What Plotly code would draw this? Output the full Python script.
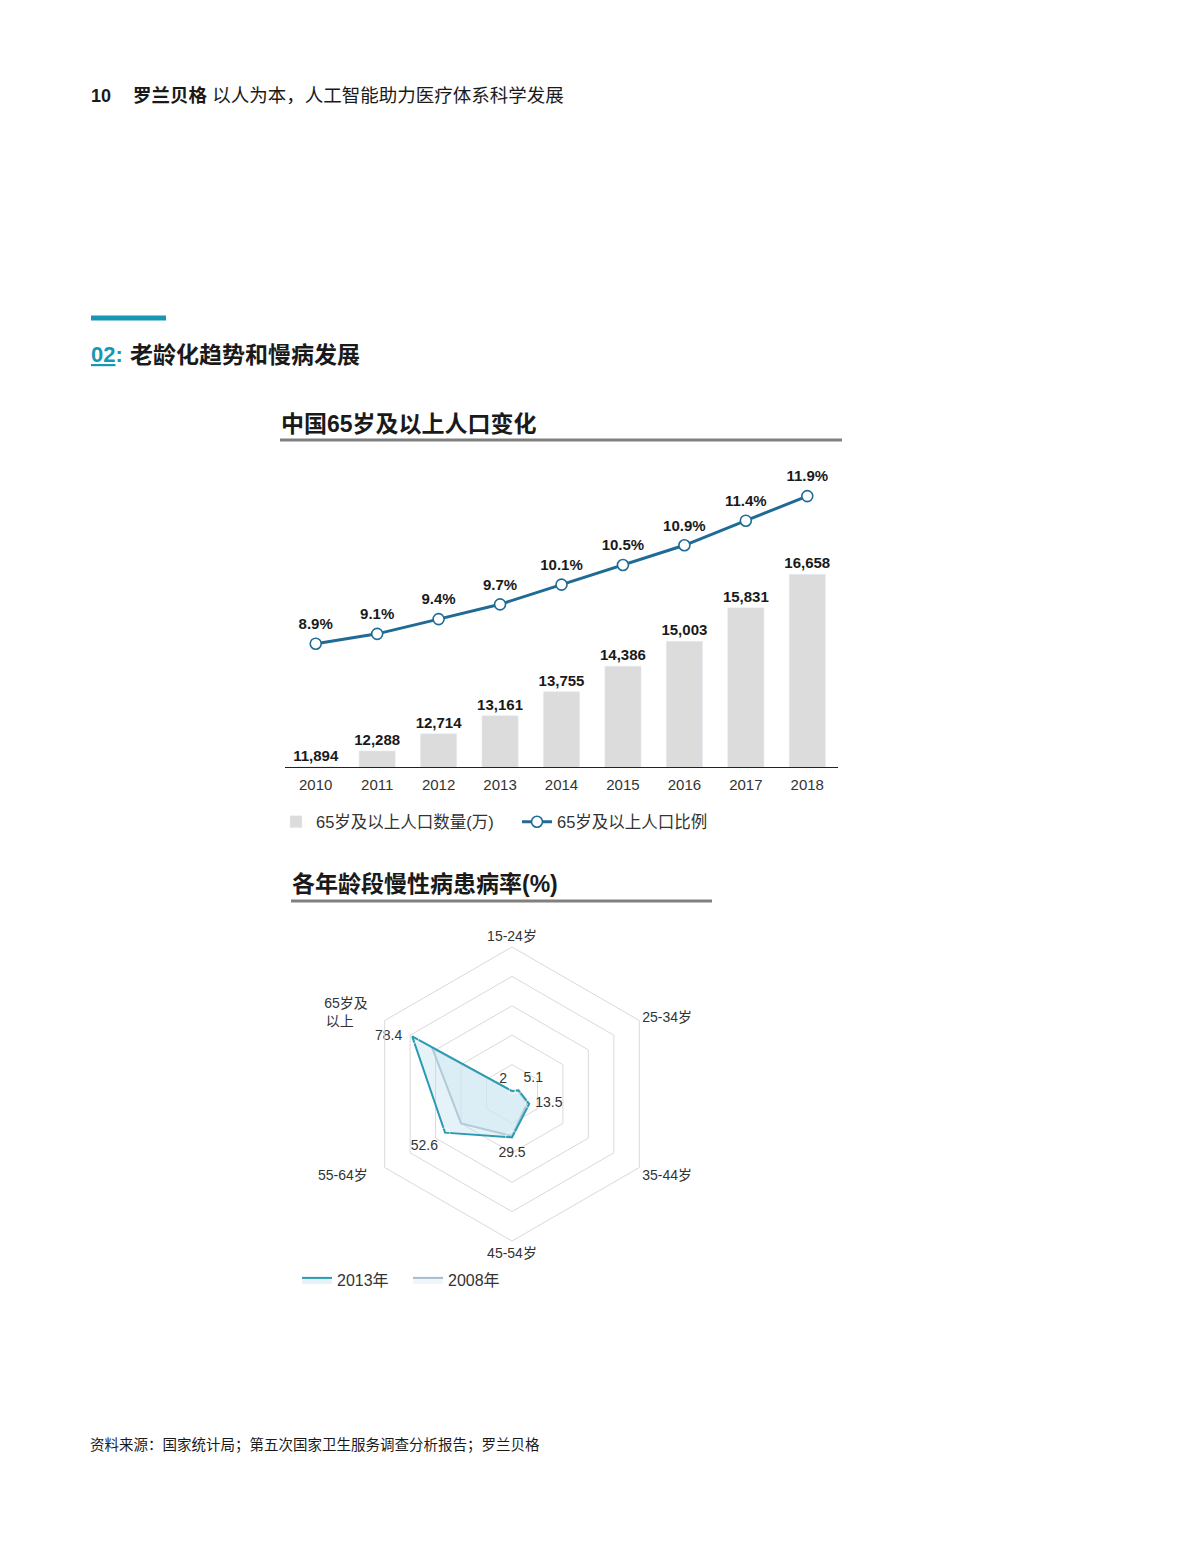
import plotly.graph_objects as go

W, H = 1181, 1565

# ---------------- data ----------------
years = ["2010", "2011", "2012", "2013", "2014", "2015", "2016", "2017", "2018"]
pop65 = [11894, 12288, 12714, 13161, 13755, 14386, 15003, 15831, 16658]
ratio65 = [8.9, 9.1, 9.4, 9.7, 10.1, 10.5, 10.9, 11.4, 11.9]

age_groups = ["15-24岁", "25-34岁", "35-44岁", "45-54岁", "55-64岁", "65岁及以上"]
age_tick_text = ["15-24岁", "25-34岁", "35-44岁", "45-54岁", "55-64岁\u3000",
                 "65岁及\u3000<br>以上\u3000\u3000"]
rate_2013 = [2, 5.1, 13.5, 29.5, 52.6, 78.4]
rate_2008 = [1.9, 4.6, 12.0, 28.5, 40.0, 62.7]

header_num = "10"
header_brand = "罗兰贝格"
header_title = "以人为本，人工智能助力医疗体系科学发展"
section_num = "02"
section_title = "老龄化趋势和慢病发展"
chart1_title = "中国65岁及以上人口变化"
chart2_title = "各年龄段慢性病患病率(%)"
legend_bar = "65岁及以上人口数量(万)"
legend_line = "65岁及以上人口比例"
legend_2013 = "2013年"
legend_2008 = "2008年"
source_text = "资料来源：国家统计局；第五次国家卫生服务调查分析报告；罗兰贝格"

# ---------------- style ----------------
FONT = "Liberation Sans, Arial, Noto Sans CJK SC, sans-serif"
TEAL = "#1897b4"
LINE_BLUE = "#1f6b95"
BAR_GREY = "#dcdcdd"
RULE_GREY = "#808080"
TXT = "#1a1a1a"
OFF = 8  # page body margin of the browser


def px(x):
    return (x - OFF) / W


def py(y):
    return 1 - (y - OFF) / H


fig = go.Figure()

# ---- bar + line chart ----
fig.add_trace(go.Bar(
    x=years, y=pop65, name=legend_bar, marker_color=BAR_GREY,
    yaxis="y", xaxis="x", legend="legend", hoverinfo="skip",
))
fig.add_trace(go.Scatter(
    x=years, y=pop65, mode="markers+text", texttemplate="<b>%{y:,}</b>",
    marker=dict(size=2, color="rgba(0,0,0,0)"),
    textposition="top center", textfont=dict(size=15, color=TXT, family=FONT),
    cliponaxis=False, showlegend=False, yaxis="y", xaxis="x", hoverinfo="skip",
))
fig.add_trace(go.Scatter(
    x=years, y=ratio65, name=legend_line, mode="lines+markers",
    line=dict(color=LINE_BLUE, width=3),
    marker=dict(size=11, color="white", line=dict(color=LINE_BLUE, width=1.6)),
    yaxis="y2", xaxis="x", legend="legend", cliponaxis=False,
))
fig.add_trace(go.Scatter(
    x=years, y=ratio65, mode="markers+text", texttemplate="<b>%{y:.1f}%</b>",
    marker=dict(size=16, color="rgba(0,0,0,0)"),
    textposition="top center", textfont=dict(size=15, color=TXT, family=FONT),
    cliponaxis=False, showlegend=False, yaxis="y2", xaxis="x", hoverinfo="skip",
))

# ---- radar chart ----
theta = age_groups + [age_groups[0]]
fig.add_trace(go.Scatterpolar(
    r=rate_2008 + [rate_2008[0]], theta=theta, name=legend_2008,
    mode="lines", fill="toself", fillcolor="rgba(225,238,245,0.55)",
    line=dict(color="#a7bccb", width=2), legend="legend2", subplot="polar",
))
fig.add_trace(go.Scatterpolar(
    r=rate_2013 + [rate_2013[0]], theta=theta, name=legend_2013,
    mode="lines", fill="toself", fillcolor="rgba(190,225,238,0.4)",
    line=dict(color="#2a9bb0", width=2),
    legend="legend2", subplot="polar",
))
fig.add_trace(go.Scatterpolar(
    r=rate_2013, theta=age_groups, mode="markers+text",
    text=[str(v) for v in rate_2013],
    marker=dict(size=[6.4, 6.4, 8, 12.8, 9.6, 14.4], color="rgba(0,0,0,0)"),
    textposition=["top left", "top right", "middle right", "bottom center",
                  "bottom left", "middle left"],
    textfont=dict(size=14, color="#333333", family=FONT),
    showlegend=False, subplot="polar", hoverinfo="skip",
))

cx, cy, R = 512, 1094, 147

fig.update_layout(
    width=W, height=H,
    margin=dict(l=0, r=0, t=0, b=0),
    paper_bgcolor="white", plot_bgcolor="white",
    font=dict(family=FONT, color=TXT),
    bargap=0.41,
    xaxis=dict(
        domain=[px(285), px(838)], anchor="y", type="category",
        range=[-0.5, len(years) - 0.5],
        showline=True, linecolor="#222222", linewidth=1,
        ticks="", showgrid=False, zeroline=False, ticklabelstandoff=4,
        tickfont=dict(size=15, color="#333333", family=FONT),
    ),
    yaxis=dict(
        domain=[py(767), py(470)], anchor="x",
        range=[11890, 19240], visible=False, showgrid=False,
    ),
    yaxis2=dict(
        domain=[py(767), py(470)], anchor="x", overlaying="y",
        range=[6.394, 12.43], visible=False, showgrid=False,
    ),
    polar=dict(
        domain=dict(x=[px(cx - R), px(cx + R)], y=[py(cy + R), py(cy - R)]),
        gridshape="linear", bgcolor="white",
        radialaxis=dict(
            range=[0, 100], dtick=20, showticklabels=False, ticks="",
            showline=False, gridcolor="#d9d9d9", gridwidth=1,
        ),
        angularaxis=dict(
            type="category", categoryorder="array", categoryarray=age_groups,
            tickmode="array", tickvals=age_groups, ticktext=age_tick_text,
            rotation=90, direction="clockwise", showgrid=False,
            linecolor="#d9d9d9", linewidth=1, ticks="",
            tickfont=dict(size=14, color="#333333", family=FONT),
        ),
    ),
    legend=dict(
        orientation="h", x=px(276), y=py(822), xanchor="left", yanchor="middle",
        font=dict(size=16.5, color="#333333", family=FONT),
        bgcolor="rgba(0,0,0,0)", itemwidth=30, traceorder="normal",
        entrywidth=196, entrywidthmode="pixels",
    ),
    legend2=dict(
        orientation="h", x=px(297), y=py(1280), xanchor="left", yanchor="middle",
        font=dict(size=16, color="#333333", family=FONT),
        bgcolor="rgba(0,0,0,0)", itemwidth=30, traceorder="reversed",
        entrywidth=66, entrywidthmode="pixels",
    ),
    showlegend=True,
)

annotations = [
    dict(x=px(89), y=py(96), text=f"<b>{header_num}</b>", font=dict(size=18, color=TXT)),
    dict(x=px(131), y=py(96), text=f"<b>{header_brand}</b> {header_title}",
         font=dict(size=18.5, color=TXT)),
    dict(x=px(89), y=py(355), text=f"<b><u>{section_num}</u>:</b>",
         font=dict(size=22, color=TEAL)),
    dict(x=px(128), y=py(355), text=f"<b>{section_title}</b>",
         font=dict(size=23, color=TXT)),
    dict(x=px(279), y=py(424), text=f"<b>{chart1_title}</b>",
         font=dict(size=23, color=TXT)),
    dict(x=px(290), y=py(884), text=f"<b>{chart2_title}</b>",
         font=dict(size=23, color=TXT)),
    dict(x=px(88), y=py(1445), text=source_text, font=dict(size=14.5, color=TXT)),
]
for a in annotations:
    a.update(xref="paper", yref="paper", xanchor="left", yanchor="middle",
             showarrow=False)
    a["font"]["family"] = FONT
fig.update_layout(annotations=annotations)

shapes = [
    dict(type="rect", x0=px(91), x1=px(166), y0=py(320.5), y1=py(315.5),
         fillcolor=TEAL, line=dict(width=0)),
    dict(type="line", x0=px(280), x1=px(842), y0=py(440), y1=py(440),
         line=dict(color=RULE_GREY, width=3)),
    dict(type="line", x0=px(291), x1=px(712), y0=py(901), y1=py(901),
         line=dict(color=RULE_GREY, width=3)),
]
for s in shapes:
    s.update(xref="paper", yref="paper")
fig.update_layout(shapes=shapes)

fig.write_html("out.html")
